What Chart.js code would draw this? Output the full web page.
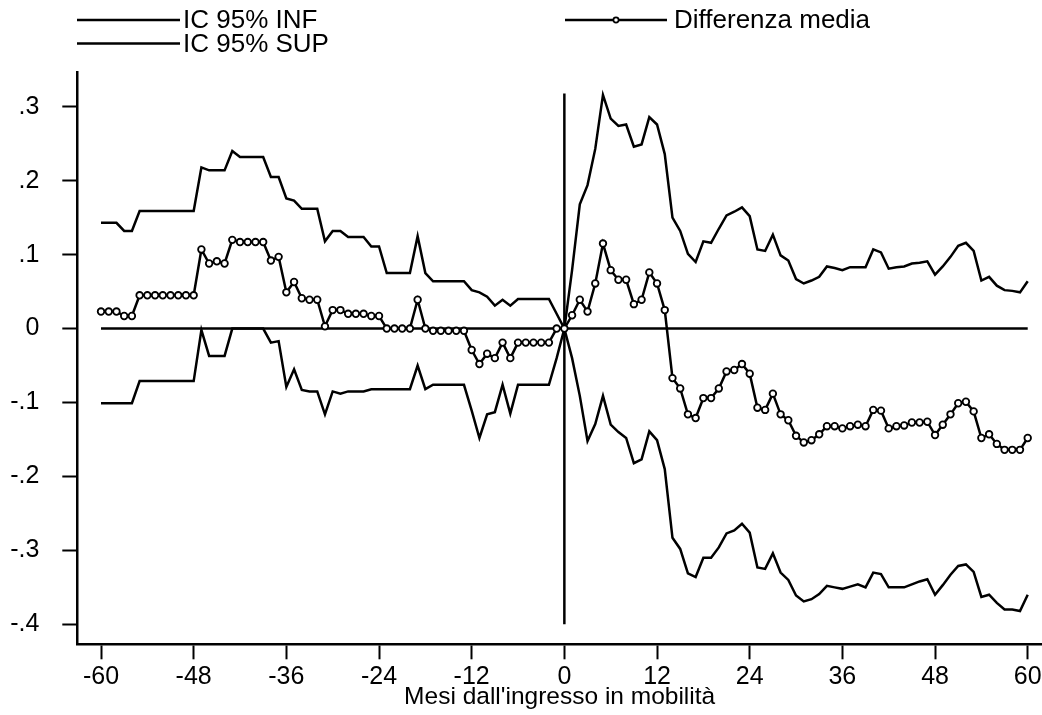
<!DOCTYPE html>
<html>
<head>
<meta charset="utf-8">
<title>Differenza media per mesi dall'ingresso in mobilità</title>
<script src="https://cdn.jsdelivr.net/npm/chart.js@4.4.1/dist/chart.umd.min.js"></script>
<style>
  html, body { margin: 0; padding: 0; background: #ffffff; }
  #wrap { width: 1042px; height: 715px; position: relative; }
</style>
</head>
<body>
<div id="wrap"><canvas id="c" width="1042" height="715"></canvas></div>
<script>
// Months relative to entry into mobility
const months = [
  -60,-59,-58,-57,-56,-55,-54,-53,-52,-51,
  -50,-49,-48,-47,-46,-45,-44,-43,-42,-41,
  -40,-39,-38,-37,-36,-35,-34,-33,-32,-31,
  -30,-29,-28,-27,-26,-25,-24,-23,-22,-21,
  -20,-19,-18,-17,-16,-15,-14,-13,-12,-11,
  -10,-9,-8,-7,-6,-5,-4,-3,-2,-1,
  0,1,2,3,4,5,6,7,8,9,
  10,11,12,13,14,15,16,17,18,19,
  20,21,22,23,24,25,26,27,28,29,
  30,31,32,33,34,35,36,37,38,39,
  40,41,42,43,44,45,46,47,48,49,
  50,51,52,53,54,55,56,57,58,59,60
];

// Lower bound of the 95% confidence interval
const icInf = [
  -0.101,-0.101,-0.101,-0.101,-0.101,-0.071,-0.071,-0.071,-0.071,-0.071,
  -0.071,-0.071,-0.071,-0.002,-0.037,-0.037,-0.037,0,0,0,
  0,0,-0.019,-0.017,-0.079,-0.055,-0.083,-0.085,-0.085,-0.116,
  -0.085,-0.088,-0.085,-0.085,-0.085,-0.082,-0.082,-0.082,-0.082,-0.082,
  -0.082,-0.050,-0.082,-0.076,-0.076,-0.076,-0.076,-0.076,-0.111,-0.148,
  -0.116,-0.113,-0.076,-0.115,-0.076,-0.076,-0.076,-0.076,-0.076,-0.040,
  0,-0.040,-0.091,-0.152,-0.129,-0.091,-0.130,-0.140,-0.148,-0.182,
  -0.177,-0.139,-0.151,-0.190,-0.283,-0.298,-0.331,-0.336,-0.310,-0.310,
  -0.296,-0.277,-0.273,-0.264,-0.276,-0.323,-0.325,-0.304,-0.330,-0.340,
  -0.361,-0.369,-0.366,-0.359,-0.348,-0.350,-0.352,-0.349,-0.346,-0.350,
  -0.330,-0.332,-0.350,-0.350,-0.350,-0.346,-0.342,-0.339,-0.360,-0.347,
  -0.333,-0.321,-0.319,-0.329,-0.363,-0.360,-0.371,-0.380,-0.380,-0.382,-0.360
];

// Upper bound of the 95% confidence interval
const icSup = [
  0.143,0.143,0.143,0.132,0.132,0.159,0.159,0.159,0.159,0.159,
  0.159,0.159,0.159,0.218,0.214,0.214,0.214,0.240,0.232,0.232,
  0.232,0.232,0.205,0.205,0.176,0.173,0.162,0.162,0.162,0.118,
  0.132,0.132,0.124,0.124,0.124,0.111,0.111,0.075,0.075,0.075,
  0.075,0.125,0.075,0.064,0.064,0.064,0.064,0.064,0.052,0.049,
  0.043,0.031,0.039,0.031,0.040,0.040,0.040,0.040,0.040,0.020,
  0,0.079,0.168,0.194,0.243,0.316,0.284,0.274,0.276,0.246,
  0.249,0.286,0.276,0.236,0.150,0.132,0.101,0.090,0.118,0.116,
  0.135,0.153,0.158,0.164,0.152,0.107,0.105,0.127,0.099,0.092,
  0.067,0.061,0.065,0.070,0.084,0.082,0.079,0.083,0.083,0.083,
  0.107,0.103,0.081,0.083,0.084,0.088,0.089,0.091,0.073,0.084,
  0.097,0.112,0.116,0.105,0.065,0.070,0.058,0.052,0.051,0.049,0.064
];

// Mean difference
const diffMedia = [
  0.023,0.023,0.023,0.017,0.017,0.045,0.045,0.045,0.045,0.045,
  0.045,0.045,0.045,0.107,0.088,0.091,0.088,0.120,0.117,0.117,
  0.117,0.117,0.092,0.097,0.049,0.063,0.041,0.039,0.039,0.003,
  0.025,0.025,0.020,0.020,0.020,0.017,0.017,0,0,0,
  0,0.039,0,-0.003,-0.003,-0.003,-0.003,-0.003,-0.029,-0.048,
  -0.034,-0.040,-0.019,-0.040,-0.019,-0.019,-0.019,-0.019,-0.019,0,
  0,0.018,0.039,0.023,0.061,0.115,0.079,0.066,0.066,0.033,
  0.039,0.076,0.061,0.025,-0.067,-0.081,-0.116,-0.121,-0.094,-0.094,
  -0.081,-0.058,-0.056,-0.048,-0.061,-0.107,-0.110,-0.088,-0.116,-0.124,
  -0.145,-0.154,-0.151,-0.143,-0.132,-0.132,-0.135,-0.132,-0.130,-0.132,
  -0.110,-0.111,-0.135,-0.132,-0.131,-0.127,-0.127,-0.126,-0.144,-0.130,
  -0.116,-0.101,-0.099,-0.112,-0.148,-0.143,-0.156,-0.164,-0.164,-0.164,-0.148
];

// Reference lines: y = 0 across the window, x = 0 at entry
const zeroLineX = [-60, 60];
const zeroLineY = [0, 0];
const entryLineX = [0, 0];
const entryLineY = [0.318, -0.4];

// Axis ticks and their labels
const xTicks = [-60, -48, -36, -24, -12, 0, 12, 24, 36, 48, 60];
const yTicks = [-0.4, -0.3, -0.2, -0.1, 0, 0.1, 0.2, 0.3];
const yTickLabels = ['-.4', '-.3', '-.2', '-.1', '0', '.1', '.2', '.3'];

const seriesLabels = ['IC 95% INF', 'IC 95% SUP', 'Differenza media'];
const xTitle = "Mesi dall'ingresso in mobilità";

const FONT = "'Liberation Sans', Arial, Helvetica, sans-serif";
const LINE_W = 2.5;
const toPoints = (xs, ys) => xs.map((x, i) => ({ x: x, y: ys[i] }));

// Legend drawn in the top band: two CI keys on the left, mean key on the right
const legendPlugin = {
  id: 'stataLegend',
  afterDraw(chart) {
    const ctx = chart.ctx;
    ctx.save();
    ctx.strokeStyle = '#000';
    ctx.fillStyle = '#000';
    ctx.lineWidth = LINE_W;
    ctx.font = '26px ' + FONT;
    ctx.textBaseline = 'middle';
    ctx.textAlign = 'left';
    const keys = [
      { x0: 77, x1: 180, y: 20, tx: 183, text: seriesLabels[0], marker: false },
      { x0: 77, x1: 180, y: 43.5, tx: 183, text: seriesLabels[1], marker: false },
      { x0: 565, x1: 667, y: 20, tx: 674, text: seriesLabels[2], marker: true }
    ];
    keys.forEach(k => {
      ctx.beginPath();
      ctx.moveTo(k.x0, k.y);
      ctx.lineTo(k.x1, k.y);
      ctx.stroke();
      if (k.marker) {
        ctx.beginPath();
        ctx.lineWidth = 1.7;
        ctx.fillStyle = '#fff';
        ctx.arc((k.x0 + k.x1) / 2, k.y, 2.6, 0, Math.PI * 2);
        ctx.fill();
        ctx.stroke();
        ctx.fillStyle = '#000';
        ctx.lineWidth = LINE_W;
      }
      ctx.fillText(k.text, k.tx, k.y + 1);
    });
    ctx.restore();
  }
};

new Chart(document.getElementById('c'), {
  type: 'line',
  data: {
    datasets: [
      {
        label: seriesLabels[2],
        data: toPoints(months, diffMedia),
        borderColor: '#000',
        borderWidth: LINE_W,
        pointRadius: 3.3,
        pointBorderWidth: 1.8,
        pointBackgroundColor: '#fff',
        pointBorderColor: '#000',
        tension: 0,
        order: 0
      },
      {
        label: seriesLabels[0],
        data: toPoints(months, icInf),
        borderColor: '#000',
        borderWidth: LINE_W,
        pointRadius: 0,
        tension: 0,
        order: 1
      },
      {
        label: seriesLabels[1],
        data: toPoints(months, icSup),
        borderColor: '#000',
        borderWidth: LINE_W,
        pointRadius: 0,
        tension: 0,
        order: 1
      },
      {
        label: 'zero',
        data: toPoints(zeroLineX, zeroLineY),
        borderColor: '#000',
        borderWidth: LINE_W,
        pointRadius: 0,
        order: 2
      },
      {
        label: 'ingresso',
        data: toPoints(entryLineX, entryLineY),
        borderColor: '#000',
        borderWidth: LINE_W,
        pointRadius: 0,
        order: 2
      }
    ]
  },
  options: {
    responsive: false,
    animation: false,
    events: [],
    layout: { autoPadding: false, padding: { top: 72, left: 0, right: 0, bottom: 0 } },
    plugins: {
      legend: { display: false },
      tooltip: { enabled: false },
      title: { display: false }
    },
    scales: {
      x: {
        type: 'linear',
        min: -63.07,
        max: 61.85,
        afterBuildTicks: s => { s.ticks = xTicks.map(v => ({ value: v })); },
        afterFit: s => { s.height = 70.7; s.paddingLeft = 0; s.paddingRight = 0; },
        ticks: {
          autoSkip: false,
          maxRotation: 0,
          color: '#000',
          padding: 3,
          font: { family: FONT, size: 25 },
          callback: v => String(v)
        },
        grid: {
          drawOnChartArea: false,
          drawTicks: true,
          tickLength: 15,
          tickWidth: 2,
          tickColor: '#000'
        },
        border: { display: true, color: '#000', width: 2.5 },
        title: {
          display: true,
          text: xTitle,
          color: '#000',
          font: { family: FONT, size: 24.5 },
          padding: { top: 0, bottom: 3 }
        }
      },
      y: {
        type: 'linear',
        min: -0.427,
        max: 0.347,
        afterBuildTicks: s => { s.ticks = yTicks.map(v => ({ value: v })); },
        afterFit: s => { s.width = 77.3; s.paddingTop = 0; s.paddingBottom = 0; },
        ticks: {
          autoSkip: false,
          color: '#000',
          padding: 23,
          font: { family: FONT, size: 25 },
          callback: (v) => {
            const i = yTicks.findIndex(t => Math.abs(t - v) < 1e-9);
            return i >= 0 ? yTickLabels[i] : '';
          }
        },
        grid: {
          drawOnChartArea: false,
          drawTicks: true,
          tickLength: 15,
          tickWidth: 2,
          tickColor: '#000'
        },
        border: { display: true, color: '#000', width: 2.5 }
      }
    }
  },
  plugins: [legendPlugin]
});
</script>
</body>
</html>
